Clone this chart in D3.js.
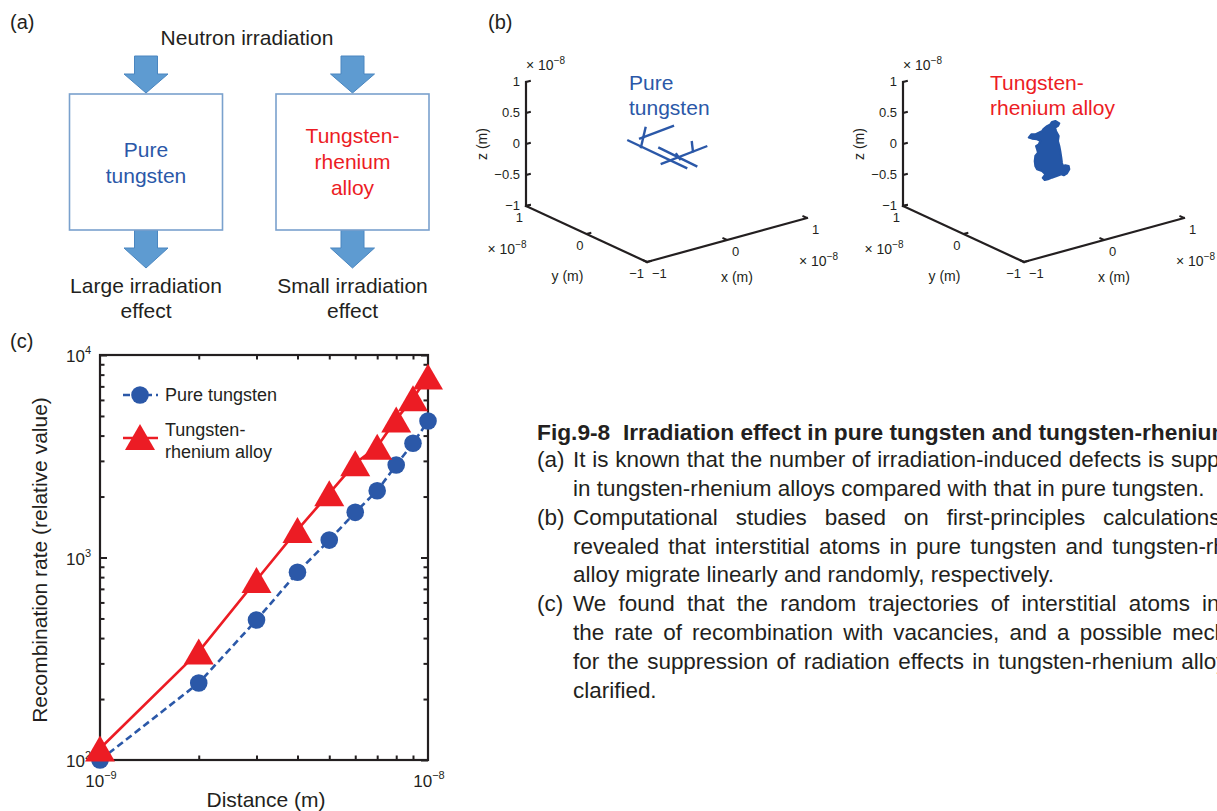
<!DOCTYPE html>
<html>
<head>
<meta charset="utf-8">
<script src="https://cdn.jsdelivr.net/npm/d3@7"></script>
<style>
  body { margin: 0; background: #fff; }
  svg { display: block; font-family: "Liberation Sans", Arial, Helvetica, sans-serif; }
</style>
</head>
<body>
<svg id="fig" width="1217" height="811"></svg>
<script>
// ---------- data ----------
// panel (c): recombination rate vs distance (log-log)
var distances = [1e-9, 2e-9, 3e-9, 4e-9, 5e-9, 6e-9, 7e-9, 8e-9, 9e-9, 1e-8];
var pureRate  = [100, 240, 491, 845, 1219, 1671, 2137, 2864, 3666, 4720];
var alloyRate = [114, 343, 774, 1368, 2075, 2918, 3525, 4808, 6108, 7820];
var xTickLabels = [[1e-9, "10", "\u22129"], [1e-8, "10", "\u22128"]];
var yTickLabels = [[1e2, "10", "2"], [1e3, "10", "3"], [1e4, "10", "4"]];
var seriesNames = ["Pure tungsten", "Tungsten-\nrhenium alloy"];

// panel (b): trajectories, coordinates in units of 1e-8 m
var cubeTicks = [-1, 0, 1];
var zCubeTicks = [-1, -0.5, 0, 0.5, 1];
var pureTrack = [
  [[-0.138, 0.466, 0], [-0.147, -0.538, 0]],
  [[-0.029, 0.416, 0], [0.471, 0.498, 0]],
  [[0.232, 0.650, 0], [-0.173, 0.197, 0]],
  [[-0.019, 0.111, 0], [-0.041, -0.564, 0]],
  [[-0.283, -0.278, 0], [0.388, -0.162, 0]],
  [[0.350, 0.046, 0], [0.169, -0.215, 0]],
  [[0.016, -0.131, 0], [-0.058, -0.312, 0]]
];
var alloyCloud = [
  [0.106, 0, 0.415], [0.148, 0, 0.416], [0.198, 0, 0.360], [0.181, 0, 0.323],
  [0.148, 0, 0.308], [0.156, 0, 0.252], [0.190, 0, 0.158], [0.181, 0, 0.081],
  [0.198, 0, -0.006], [0.210, 0, -0.090], [0.223, 0, -0.203], [0.231, 0, -0.287],
  [0.240, 0, -0.344], [0.273, 0, -0.344], [0.315, 0, -0.369], [0.323, 0, -0.426],
  [0.294, 0, -0.481], [0.253, 0, -0.498], [0.223, 0, -0.471], [0.190, 0, -0.476],
  [0.148, 0, -0.482], [0.106, 0, -0.484], [0.056, 0, -0.492], [0.015, 0, -0.489],
  [-0.010, 0, -0.444], [0.023, 0, -0.400], [-0.019, 0, -0.332], [-0.081, 0, -0.282],
  [-0.103, 0, -0.221], [-0.110, 0, -0.139], [-0.103, 0, -0.060], [-0.069, 0, -0.019],
  [-0.081, 0, 0.040], [-0.094, 0, 0.098], [-0.060, 0, 0.113], [-0.040, 0, 0.160],
  [-0.081, 0, 0.202], [-0.144, 0, 0.234], [-0.185, 0, 0.265], [-0.153, 0, 0.308],
  [-0.103, 0, 0.290], [-0.060, 0, 0.300], [-0.019, 0, 0.313], [0.003, 0, 0.342],
  [0.044, 0, 0.371], [0.085, 0, 0.384]
];

// caption
var captionTitle = "Fig.9-8\u00a0\u00a0Irradiation effect in pure tungsten and tungsten-rhenium alloys";
var captionLines = [
  ["(a)", "It is known that the number of irradiation-induced defects is suppressed", true],
  ["", "in tungsten-rhenium alloys compared with that in pure tungsten.", false],
  ["(b)", "Computational studies based on first-principles calculations have", true],
  ["", "revealed that interstitial atoms in pure tungsten and tungsten-rhenium", true],
  ["", "alloy migrate linearly and randomly, respectively.", false],
  ["(c)", "We found that the random trajectories of interstitial atoms increase", true],
  ["", "the rate of recombination with vacancies, and a possible mechanism", true],
  ["", "for the suppression of radiation effects in tungsten-rhenium alloys was", true],
  ["", "clarified.", false]
];

var ink = "#231f20", blue = "#2b58a8", red = "#ec1c24";
var arrowFill = "#5e9bd1", arrowStroke = "#4a86c0", boxStroke = "#7aa1cd";

var svg = d3.select("#fig");
svg.append("rect").attr("width", 1217).attr("height", 811).attr("fill", "#fff");

// panel letters
[["(a)", 10, 29], ["(b)", 488, 29], ["(c)", 10, 348]].forEach(function (d) {
  svg.append("text").attr("x", d[1]).attr("y", d[2]).attr("font-size", 20)
    .attr("fill", ink).text(d[0]);
});

// ---------- panel (a) ----------
var gA = svg.append("g");
gA.append("text").attr("x", 247).attr("y", 45).attr("text-anchor", "middle")
  .attr("font-size", 21).attr("fill", ink).text("Neutron irradiation");

var flow = [
  {cx: 146, lines: ["Pure", "tungsten"], color: blue, first: 157, effect: ["Large irradiation", "effect"]},
  {cx: 352.5, lines: ["Tungsten-", "rhenium", "alloy"], color: red, first: 143, effect: ["Small irradiation", "effect"]}
];

function arrowPts(cx, top, neck, tip) {
  return [[cx - 11.5, top], [cx + 11.5, top], [cx + 11.5, neck], [cx + 22, neck],
          [cx, tip], [cx - 22, neck], [cx - 11.5, neck]];
}

flow.forEach(function (f) {
  gA.append("polygon").attr("points", arrowPts(f.cx, 56, 74, 93).join(" "))
    .attr("fill", arrowFill).attr("stroke", arrowStroke).attr("stroke-width", 1);
  gA.append("polygon").attr("points", arrowPts(f.cx, 230, 248, 268).join(" "))
    .attr("fill", arrowFill).attr("stroke", arrowStroke).attr("stroke-width", 1);
  gA.append("rect").attr("x", f.cx - 76.5).attr("y", 94).attr("width", 153).attr("height", 136)
    .attr("fill", "#fff").attr("stroke", boxStroke).attr("stroke-width", 1.6);
  f.lines.forEach(function (t, i) {
    gA.append("text").attr("x", f.cx).attr("y", f.first + i * 26).attr("text-anchor", "middle")
      .attr("font-size", 21).attr("fill", f.color).text(t);
  });
  f.effect.forEach(function (t, i) {
    gA.append("text").attr("x", f.cx).attr("y", 293 + i * 25).attr("text-anchor", "middle")
      .attr("font-size", 21).attr("fill", ink).text(t);
  });
});

// ---------- panel (b) ----------
var unit = d3.scaleLinear().domain([-1, 1]).range([0, 1]);
var ex = [160, -44], ey = [-121, -56], ez = [0, -124];
function project(o, p) {
  var a = unit(p[0]), b = unit(p[1]), c = unit(p[2]);
  return [o[0] + a * ex[0] + b * ey[0] + c * ez[0], o[1] + a * ex[1] + b * ey[1] + c * ez[1]];
}
function unitVec(v, len) {
  var n = Math.sqrt(v[0] * v[0] + v[1] * v[1]);
  return [v[0] / n * len, v[1] / n * len];
}

function sciLabel(g, x, y, anchor) {
  var t = g.append("text").attr("x", x).attr("y", y).attr("font-size", 14)
    .attr("fill", ink).attr("text-anchor", anchor || "start");
  t.append("tspan").text("\u00d7 10");
  t.append("tspan").attr("dy", -6).attr("font-size", 10).text("\u22128");
}

function cube(o, title, titleX, titleColor, drawTrack) {
  var g = svg.append("g");
  var tx = unitVec(ex, 5), ty = unitVec(ey, 5);
  var axes = [[[-1, 1, -1], [-1, 1, 1]], [[-1, 1, -1], [-1, -1, -1]], [[-1, -1, -1], [1, -1, -1]]];
  axes.forEach(function (s) {
    var a = project(o, s[0]), b = project(o, s[1]);
    g.append("line").attr("x1", a[0]).attr("y1", a[1]).attr("x2", b[0]).attr("y2", b[1])
      .attr("stroke", ink).attr("stroke-width", 2.2).attr("stroke-linecap", "square");
  });
  // z ticks
  zCubeTicks.forEach(function (v) {
    var p = project(o, [-1, 1, v]);
    g.append("line").attr("x1", p[0]).attr("y1", p[1]).attr("x2", p[0] + tx[0]).attr("y2", p[1] + tx[1])
      .attr("stroke", ink).attr("stroke-width", 2);
    g.append("text").attr("x", p[0] - 6).attr("y", p[1] + 3.5).attr("text-anchor", "end")
      .attr("font-size", 13).attr("fill", ink).text(String(v).replace("-", "\u2212"));
  });
  // y ticks
  cubeTicks.forEach(function (v) {
    var p = project(o, [-1, v, -1]);
    g.append("line").attr("x1", p[0]).attr("y1", p[1]).attr("x2", p[0] + tx[0]).attr("y2", p[1] + tx[1])
      .attr("stroke", ink).attr("stroke-width", 2);
    g.append("text").attr("x", p[0] - 3).attr("y", p[1] + 16).attr("text-anchor", "end")
      .attr("font-size", 13).attr("fill", ink).text(String(v).replace("-", "\u2212"));
  });
  // x ticks
  cubeTicks.forEach(function (v) {
    var p = project(o, [v, -1, -1]);
    g.append("line").attr("x1", p[0]).attr("y1", p[1]).attr("x2", p[0] + ty[0]).attr("y2", p[1] + ty[1])
      .attr("stroke", ink).attr("stroke-width", 2);
    g.append("text").attr("x", p[0] + 5).attr("y", p[1] + 16).attr("text-anchor", "start")
      .attr("font-size", 13).attr("fill", ink).text(String(v).replace("-", "\u2212"));
  });
  var top = project(o, [-1, 1, 1]);
  sciLabel(g, top[0], top[1] - 12);
  var yMid = project(o, [-1, 0, -1]);
  sciLabel(g, yMid[0] - 99, yMid[1] + 20);
  var xEnd = project(o, [1, -1, -1]);
  sciLabel(g, xEnd[0] - 8, xEnd[1] + 48);
  g.append("text").attr("x", yMid[0] - 19).attr("y", yMid[1] + 47).attr("text-anchor", "middle")
    .attr("font-size", 14).attr("fill", ink).text("y (m)");
  var xMid = project(o, [0, -1, -1]);
  g.append("text").attr("x", xMid[0] + 10).attr("y", xMid[1] + 42).attr("text-anchor", "middle")
    .attr("font-size", 14).attr("fill", ink).text("x (m)");
  var zMid = project(o, [-1, 1, 0]);
  g.append("text").attr("transform", "translate(" + (zMid[0] - 44) + "," + zMid[1] + ") rotate(-90)")
    .attr("text-anchor", "middle").attr("dy", "0.35em")
    .attr("font-size", 14).attr("fill", ink).text("z (m)");

  title.forEach(function (t, i) {
    g.append("text").attr("x", titleX).attr("y", 90 + i * 25).attr("font-size", 21)
      .attr("fill", titleColor).text(t);
  });
  drawTrack(g, o);
}

cube([647, 262], ["Pure", "tungsten"], 629, blue, function (g, o) {
  pureTrack.forEach(function (s) {
    var a = project(o, s[0]), b = project(o, s[1]);
    g.append("line").attr("x1", a[0]).attr("y1", a[1]).attr("x2", b[0]).attr("y2", b[1])
      .attr("stroke", blue).attr("stroke-width", 2.4);
  });
});

cube([1024, 262], ["Tungsten-", "rhenium alloy"], 990, red, function (g, o) {
  var pts = alloyCloud.map(function (p) { return project(o, p); });
  g.append("path").attr("d", d3.line().curve(d3.curveLinearClosed)(pts))
    .attr("fill", "#2456a6").attr("stroke", "#2456a6").attr("stroke-width", 2)
    .attr("stroke-linejoin", "round");
});

// ---------- panel (c) ----------
var cx0 = 100, cx1 = 428, cy0 = 355, cy1 = 760;
var x = d3.scaleLog().domain([1e-9, 1e-8]).range([cx0, cx1]);
var y = d3.scaleLog().domain([1e2, 1e4]).range([cy1, cy0]);
var gC = svg.append("g");

function isMajor(v) { var l = Math.log10(v); return Math.abs(l - Math.round(l)) < 1e-6; }
var yMinor = y.ticks().filter(function (v) { return !isMajor(v); });
var yMajor = y.ticks().filter(isMajor);
var xMinor = x.ticks().filter(function (v) { return !isMajor(v); });

function tickAxis(axis, tx, ty, len, vals) {
  var g = gC.append("g").attr("transform", "translate(" + tx + "," + ty + ")")
    .call(axis.tickValues(vals).tickSize(-len).tickFormat(""));
  g.select(".domain").remove();
  g.selectAll("line").attr("stroke", ink).attr("stroke-width", 2);
}
tickAxis(d3.axisLeft(y), cx0, 0, 4.5, yMinor);
tickAxis(d3.axisLeft(y), cx0, 0, 7, yMajor);
tickAxis(d3.axisRight(y), cx1, 0, 4.5, yMinor);
tickAxis(d3.axisRight(y), cx1, 0, 7, yMajor);
tickAxis(d3.axisBottom(x), 0, cy1, 4.5, xMinor);
tickAxis(d3.axisTop(x), 0, cy0, 4.5, xMinor);

gC.append("rect").attr("x", cx0).attr("y", cy0).attr("width", cx1 - cx0).attr("height", cy1 - cy0)
  .attr("fill", "none").attr("stroke", ink).attr("stroke-width", 2.2);

yTickLabels.forEach(function (d) {
  var t = gC.append("text").attr("x", cx0 - 9).attr("y", y(d[0]) + 7).attr("text-anchor", "end")
    .attr("font-size", 17).attr("fill", ink);
  t.append("tspan").text(d[1]);
  t.append("tspan").attr("dy", -8).attr("font-size", 11).text(d[2]);
});
xTickLabels.forEach(function (d) {
  var t = gC.append("text").attr("x", x(d[0]) + 1).attr("y", cy1 + 27).attr("text-anchor", "middle")
    .attr("font-size", 17).attr("fill", ink);
  t.append("tspan").text(d[1]);
  t.append("tspan").attr("dy", -8).attr("font-size", 11).text(d[2]);
});

gC.append("text").attr("x", 266).attr("y", 807).attr("text-anchor", "middle")
  .attr("font-size", 21).attr("fill", ink).text("Distance (m)");
gC.append("text").attr("transform", "translate(47,560) rotate(-90)").attr("text-anchor", "middle")
  .attr("font-size", 21).attr("fill", ink).text("Recombination rate (relative value)");

var line = d3.line().x(function (d, i) { return x(distances[i]); }).y(function (d) { return y(d); });
var tri = d3.symbol(d3.symbolTriangle, 390);
var triShift = Math.sqrt(390 / (Math.sqrt(3) * 3)) / 2;  // centre the triangle's bounding box

gC.append("path").attr("d", line(pureRate)).attr("fill", "none").attr("stroke", blue)
  .attr("stroke-width", 2.6).attr("stroke-dasharray", "7,4");
gC.selectAll("circle.pure").data(pureRate).enter().append("circle")
  .attr("cx", function (d, i) { return x(distances[i]); }).attr("cy", function (d) { return y(d); })
  .attr("r", 8.8).attr("fill", blue);

gC.append("path").attr("d", line(alloyRate)).attr("fill", "none").attr("stroke", red)
  .attr("stroke-width", 2.6);
gC.selectAll("path.alloy").data(alloyRate).enter().append("path").attr("class", "alloy")
  .attr("d", tri)
  .attr("transform", function (d, i) { return "translate(" + x(distances[i]) + "," + (y(d) + triShift) + ")"; })
  .attr("fill", red);

// legend
var lg = gC.append("g");
lg.append("line").attr("x1", 123).attr("x2", 158).attr("y1", 395).attr("y2", 395)
  .attr("stroke", blue).attr("stroke-width", 2.6).attr("stroke-dasharray", "7,4");
lg.append("circle").attr("cx", 140).attr("cy", 395).attr("r", 8.8).attr("fill", blue);
lg.append("text").attr("x", 165).attr("y", 401).attr("font-size", 18).attr("fill", ink).text(seriesNames[0]);
lg.append("line").attr("x1", 123).attr("x2", 158).attr("y1", 438).attr("y2", 438)
  .attr("stroke", red).attr("stroke-width", 2.6);
lg.append("path").attr("d", tri).attr("transform", "translate(140," + (437 + triShift) + ")").attr("fill", red);
seriesNames[1].split("\n").forEach(function (t, i) {
  lg.append("text").attr("x", 165).attr("y", 436 + i * 22).attr("font-size", 18).attr("fill", ink).text(t);
});

// ---------- caption ----------
var capX = 573, tagX = 537, base0 = 467, lh = 28.85, rightEdge = 1287;
var capG = svg.append("g").attr("font-size", 22.5).attr("fill", ink);
var probe = capG.append("text").text(captionLines[1][1]);
var sx = 632 / probe.node().getComputedTextLength();
probe.remove();

// title is cut by the page edge in the middle of "rhenium"
var title = capG.append("text").attr("font-weight", "bold").text(captionTitle);
var cutAt = captionTitle.indexOf("rhenium") + 6;
var prefixLen = title.node().getSubStringLength(0, cutAt);
var titleScale = (1212 - tagX) / prefixLen;
title.attr("transform", "translate(" + tagX + ",440) scale(" + titleScale + ",1)");

captionLines.forEach(function (d, i) {
  var by = base0 + i * lh;
  if (d[0]) {
    capG.append("text").attr("transform", "translate(" + tagX + "," + by + ") scale(" + sx + ",1)").text(d[0]);
  }
  var t = capG.append("text").attr("transform", "translate(" + capX + "," + by + ") scale(" + sx + ",1)")
    .text(d[1]);
  if (d[2]) {
    var natural = t.node().getComputedTextLength();
    var gaps = d[1].split(" ").length - 1;
    var extra = ((rightEdge - capX) / sx - natural) / gaps;
    t.attr("word-spacing", Math.max(0, extra));
  }
});
</script>
</body>
</html>
